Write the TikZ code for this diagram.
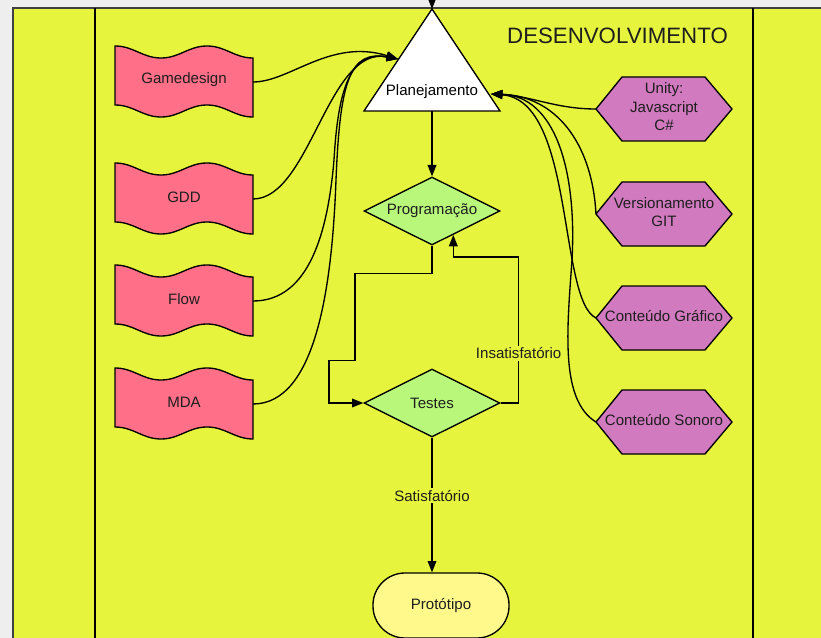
\documentclass[tikz,border=0pt]{standalone}
\usepackage{fontspec}
\setmainfont{Liberation Sans}
\usetikzlibrary{arrows.meta,shapes.geometric,calc}

\definecolor{pagegray}{HTML}{EEEEEE}
\definecolor{lane}{HTML}{E6F43E}
\definecolor{tapepink}{HTML}{FF7088}
\definecolor{hexviolet}{HTML}{D17ABF}
\definecolor{decgreen}{HTML}{B9F77B}
\definecolor{termyellow}{HTML}{FFF98C}
\definecolor{ink}{HTML}{1E1E1E}

\tikzset{
  line/.style={draw=black, line width=1pt},
  arr/.style={line, -{Triangle[length=8.5pt,width=6.5pt]}},
  txt/.style={font=\fontsize{11.3}{13.9}\selectfont, text=ink, align=center, inner sep=0pt},
  tapebox/.style={line, fill=tapepink},
  hexbox/.style={line, fill=hexviolet},
  decision/.style={diamond, aspect=2, minimum width=102pt, minimum height=51pt,
                   line, fill=decgreen, txt, inner sep=0pt},
  terminal/.style={rectangle, rounded corners=24pt, minimum width=102pt,
                   minimum height=48.75pt, line, fill=termyellow, txt},
  lbl/.style={txt, fill=lane, inner sep=1.5pt},
}

% wavy document shape (name, top y, text)
\newcommand\mytape[3]{%
  \filldraw[tapebox] (115,#2) to[out=0,in=180] (161,#2+12) to[out=0,in=180] (207,#2)
    to[out=0,in=180] (253,#2+12) -- (253,#2+71) to[out=180,in=0] (207,#2+59)
    to[out=180,in=0] (161,#2+71) to[out=180,in=0] (115,#2+59) -- cycle;
  \node[txt] (#1) at (184,#2+34) {#3};
  \coordinate (#1-e) at (253,#2+36);}

% hexagon (name, centre y, text)
\newcommand\myhex[3]{%
  \filldraw[hexbox] (596,#2) -- (622,#2-32) -- (705,#2-32) -- (732,#2)
    -- (705,#2+32) -- (622,#2+32) -- cycle;
  \node[txt] (#1) at (664,#2-2) {#3};
  \coordinate (#1-w) at (596,#2);}

\begin{document}
\begin{tikzpicture}[x=0.75pt,y=-0.75pt]
\useasboundingbox (0,0) rectangle (821,638);
\clip (0,0) rectangle (821,638);

% swimlane
\fill[pagegray] (0,0) rectangle (821,638);
\fill[lane] (13,8) rectangle (821,638);
\draw[line width=1pt, draw=black!75] (13,638) -- (13,8) -- (821,8);
\draw[line] (95,8) -- (95,638);
\draw[line] (753,8) -- (753,638);
\node[txt, font=\fontsize{16.7}{20}\selectfont, anchor=base] (title) at (617.5,44) {DESENVOLVIMENTO};

% planning triangle
\filldraw[line, fill=white] (432,9) -- (500,111) -- (364,111) -- cycle;
\node[txt, text=black] (plan) at (432,92) {Planejamento};
\coordinate (plan-top) at (432,9);
\coordinate (plan-base) at (432,111);
\coordinate (plan-left) at (398,59);
\coordinate (plan-right) at (491,94);
\coordinate (upstream) at (432,-20);
\draw[arr] (upstream) -- (plan-top);

% design documents
\mytape{gamedesign}{46}{Gamedesign}
\mytape{gdd}{163}{GDD}
\mytape{flow}{265}{Flow}
\mytape{mda}{368}{MDA}

% resources
\myhex{unity}{109}{Unity:\\Javascript\\C\#}
\myhex{git}{214}{Versionamento\\GIT}
\myhex{grafico}{318}{Conteúdo Gráfico}
\myhex{sonoro}{422}{Conteúdo Sonoro}

% main flow
\node[decision] (prog) at (432,211) {Programação};
\node[decision] (test) at (432,403) {Testes};
\node[terminal] (proto) at (441,605.5) {Protótipo};

\draw[arr] (plan-base) -- (prog.north);
\draw[arr] (prog.south) -- ++(0,28) -- ++(-77,0) -- ++(0,87) -- ++(-26,0) |- (test.west);
\coordinate (prog-in) at ($(prog.south)!0.31!(prog.east)$);
\draw[arr] (test.east) -- ++(18,0) -- node[lbl,pos=0.34] (bad) {Insatisfatório} ++(0,-146) -| (prog-in);
\draw[arr] (test.south) -- node[lbl,pos=0.43] (good) {Satisfatório} (test.south |- proto.north);

% inputs into planning
\draw[arr] (gamedesign-e) .. controls +(37,0) and +(-68,-21) .. (plan-left);
\draw[arr] (gdd-e) .. controls +(57,0) and +(-70,-14) .. (plan-left);
\draw[arr] (flow-e) .. controls +(57,0) and (328,230) .. (334,160)
  .. controls (338,90) and (350,50) .. (plan-left);
\draw[arr] (mda-e) .. controls +(62,0) and (332,290) .. (336,180)
  .. controls (340,80) and (350,50) .. (plan-left);

\draw[arr] (unity-w) .. controls +(-40,0) and +(40,2) .. (plan-right);
\draw[arr] (git-w) .. controls +(-4,-72) and +(64,2) .. (plan-right);
\draw[arr] (grafico-w) .. controls +(-38,-18) and +(84,6) .. (plan-right);
\draw[arr] (sonoro-w) .. controls (560,400) and (567,330) .. (572,260)
  .. controls (577,170) and (555,96) .. (plan-right);
\end{tikzpicture}
\end{document}
